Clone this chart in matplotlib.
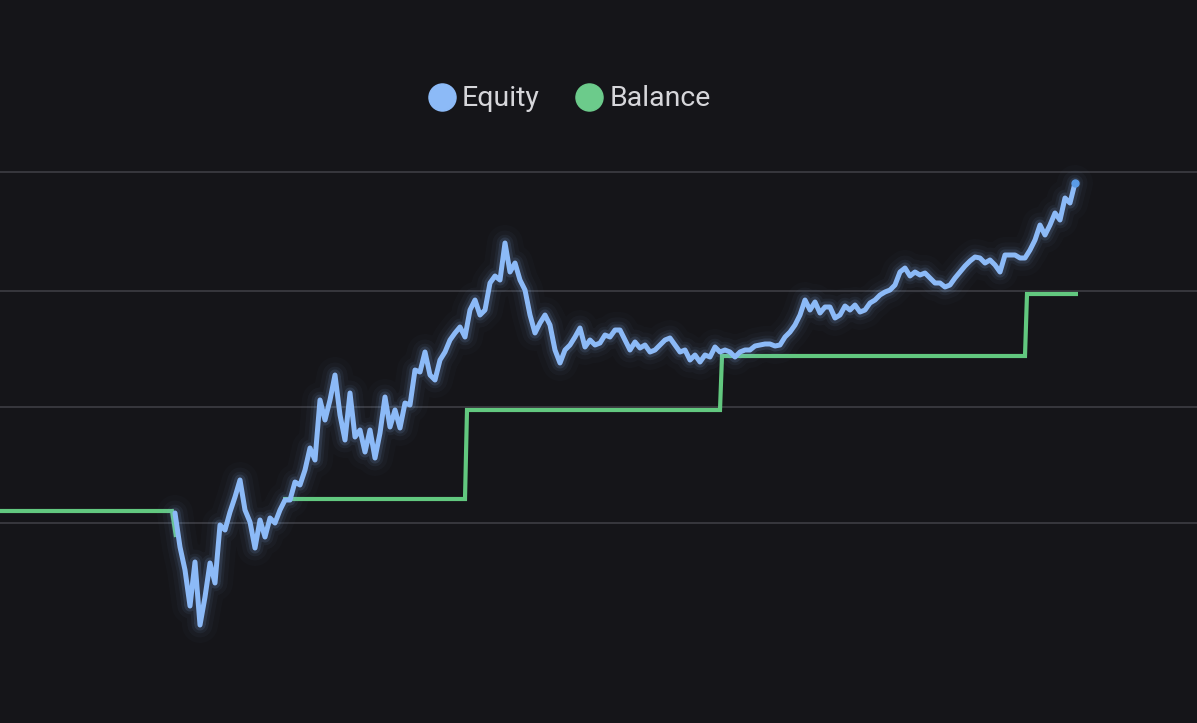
import numpy as np
import matplotlib
matplotlib.use("Agg")
import matplotlib.pyplot as plt
from matplotlib.lines import Line2D

# ---- data ----
# equity sampled once per bar (bar 0 = first bar after the drawdown starts)
equity = [
    10100, 9760, 9530, 9170, 9610, 8980, 9260, 9600, 9400, 9980,
    9930, 10110, 10260, 10430, 10130, 10010, 9750, 10030, 9860, 10050,
    10000, 10130, 10230, 10230, 10410, 10380, 10530, 10750, 10630, 11230,
    11030, 11230, 11480, 11080, 10830, 11300, 10860, 10930, 10710, 10930,
    10650, 10900, 11260, 10960, 11130, 10950, 11200, 11180, 11530, 11510,
    11710, 11480, 11430, 11630, 11710, 11830, 11900, 11960, 11860, 12130,
    12230, 12080, 12130, 12400, 12470, 12430, 12800, 12510, 12600, 12430,
    12330, 12080, 11900, 12000, 12080, 11980, 11730, 11600, 11730, 11780,
    11860, 11950, 11760, 11830, 11780, 11800, 11880, 11860, 11930, 11930,
    11830, 11730, 11810, 11750, 11780, 11710, 11730, 11780, 11830, 11850,
    11780, 11710, 11730, 11630, 11680, 11610, 11680, 11660, 11760, 11710,
    11730, 11710, 11660, 11710, 11730, 11730, 11770, 11780, 11790, 11790,
    11770, 11780, 11860, 11910, 11980, 12080, 12230, 12130, 12210, 12100,
    12160, 12160, 12050, 12080, 12170, 12130, 12180, 12110, 12130, 12200,
    12230, 12280, 12310, 12330, 12380, 12510, 12550, 12470, 12510, 12480,
    12500, 12450, 12400, 12400, 12360, 12380, 12450, 12510, 12570, 12620,
    12660, 12650, 12600, 12630, 12580, 12510, 12680, 12680, 12680, 12650,
    12650, 12730, 12830, 12980, 12880, 12980, 13100, 13030, 13250, 13200,
    13400,
]
# balance changes (bar, value); NaN marks the stretch where it is not drawn
balance_bar = [-35, -0.6, 0.2, np.nan, 21.6, 58.0, 58.4, 109.0, 109.4, 170.0, 170.4, 180.6]
balance_val = [10120, 10120, 9860, np.nan, 10240, 10240, 11130, 11130, 11670, 11670, 12290, 12290]
grid_levels = [10000, 11160, 12320, 13510]
series_names = ["Equity", "Balance"]

# ---- style ----
BG = "#151519"
EQ = "#8cbaf7"
BAL = "#62c87f"
GRID = "#3a3a40"

fig = plt.figure(figsize=(11.97, 7.23), dpi=100, facecolor=BG)
ax = fig.add_axes([0, 23 / 723, 1, 560 / 723])
ax.set_facecolor(BG)

x_eq = np.arange(len(equity))
ax.set_xlim(-35, 204.4)
ax.set_ylim(8230, 13830)

for g in grid_levels:
    ax.axhline(g, color=GRID, lw=1.3, zorder=1)

ax.plot(balance_bar, balance_val, color=BAL, lw=3, solid_joinstyle="miter",
        solid_capstyle="butt", zorder=3)

# glow for equity
for lw, a in [(26, 0.02), (18, 0.035), (12, 0.06), (8, 0.12)]:
    ax.plot(x_eq, equity, color=EQ, lw=lw, alpha=a, solid_joinstyle="round",
            solid_capstyle="round", zorder=4)
ax.plot(x_eq, equity, color=EQ, lw=3.6, solid_joinstyle="round",
        solid_capstyle="round", zorder=5)
ax.plot(x_eq[-1:], equity[-1:], "o", color="#5a9ce8", ms=5, zorder=6)

for s in ax.spines.values():
    s.set_visible(False)
ax.set_xticks([])
ax.set_yticks([])

handles = [
    Line2D([], [], marker="o", linestyle="", markersize=19.5,
           markerfacecolor=EQ, markeredgecolor=EQ),
    Line2D([], [], marker="o", linestyle="", markersize=19.5,
           markerfacecolor="#6ccb8b", markeredgecolor="#6ccb8b"),
]
leg = fig.legend(handles, series_names, loc="center",
                 bbox_to_anchor=(569 / 1197, 1 - 99 / 723), ncol=2,
                 frameon=False, handletextpad=0.2, columnspacing=1.25,
                 handlelength=1.0, prop={"family": "Roboto", "size": 20.5})
for t in leg.get_texts():
    t.set_color("#d6d6da")

fig.savefig("out.png", dpi=100, facecolor=BG)
